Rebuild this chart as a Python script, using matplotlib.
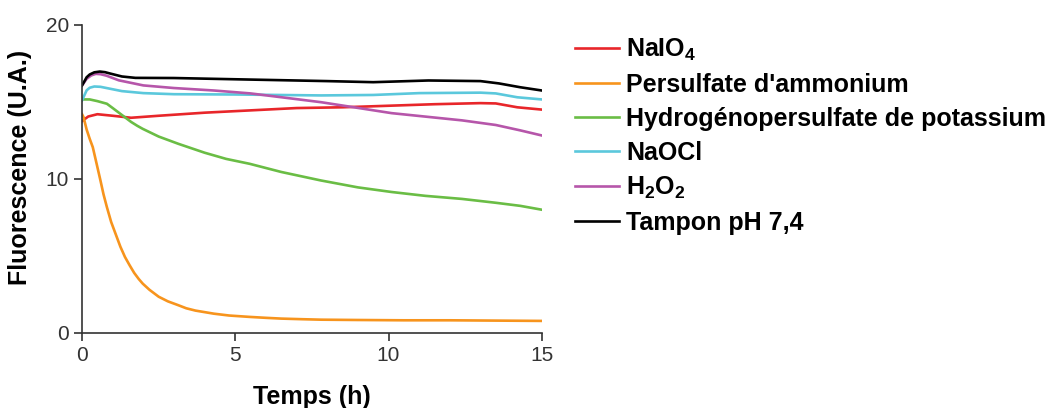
import matplotlib
matplotlib.use("Agg")
import matplotlib.pyplot as plt

plt.rcParams['font.family'] = ['Liberation Sans', 'DejaVu Sans']
plt.rcParams['mathtext.fontset'] = 'custom'
plt.rcParams['mathtext.rm'] = 'Liberation Sans:bold'
plt.rcParams['mathtext.it'] = 'Liberation Sans:bold'
plt.rcParams['mathtext.bf'] = 'Liberation Sans:bold'

# valeurs (temps en h, fluorescence en U.A.)
t_naio4 = [0, 0.2, 0.5, 1.0, 1.6, 2.5, 4, 5.5, 7, 8.5, 10, 11.5, 13, 13.5, 14.2, 15]
f_naio4 = [13.75, 14.05, 14.2, 14.1, 13.97, 14.1, 14.3, 14.45, 14.6, 14.65, 14.75, 14.85, 14.92, 14.9, 14.65, 14.5]

t_aps = [0, 0.05, 0.15, 0.25, 0.35, 0.45, 0.6, 0.7, 0.81, 0.95, 1.1, 1.25, 1.4, 1.55, 1.7, 1.85,
         1.98, 2.2, 2.5, 2.8, 3.14, 3.4, 3.7, 4.0, 4.3, 4.8, 5.47, 6.0, 6.5, 7.2, 7.8, 9, 10.5, 12, 13.5, 15]
f_aps = [14.2, 14.0, 13.2, 12.6, 12.06, 11.2, 9.9, 9.0, 8.17, 7.2, 6.4, 5.6, 4.93, 4.4, 3.9, 3.5,
         3.2, 2.8, 2.35, 2.05, 1.8, 1.6, 1.45, 1.35, 1.25, 1.13, 1.04, 0.98, 0.93, 0.89, 0.86, 0.84, 0.82, 0.82, 0.8, 0.78]

t_oxone = [0, 0.25, 0.5, 0.81, 1.0, 1.2, 1.4, 1.6, 1.8, 1.98, 2.5, 3.14, 4, 4.7, 5.47, 6.5, 7.79, 9, 10.1, 11.2, 12.4, 13.5, 14.3, 15]
f_oxone = [15.16, 15.16, 15.05, 14.88, 14.6, 14.3, 14.0, 13.7, 13.45, 13.25, 12.75, 12.28, 11.7, 11.3, 10.98, 10.45, 9.9, 9.45, 9.15, 8.9, 8.7, 8.45, 8.25, 8.0]

t_naocl = [0, 0.08, 0.15, 0.25, 0.4, 0.6, 0.8, 1.3, 2.0, 3, 5, 7.8, 9.5, 11, 13, 13.5, 14.2, 15]
f_naocl = [15.1, 15.45, 15.75, 15.92, 16.0, 15.98, 15.9, 15.7, 15.57, 15.5, 15.48, 15.42, 15.45, 15.57, 15.6, 15.55, 15.3, 15.16]

t_h2o2 = [0, 0.08, 0.15, 0.3, 0.45, 0.6, 0.8, 1.2, 2.0, 3, 4.3, 5.5, 7.8, 10.1, 12.4, 13.5, 14.3, 15]
f_h2o2 = [16.07, 16.3, 16.5, 16.72, 16.82, 16.8, 16.7, 16.4, 16.07, 15.9, 15.74, 15.55, 14.98, 14.27, 13.8, 13.5, 13.15, 12.82]

t_tampon = [0, 0.08, 0.15, 0.25, 0.4, 0.58, 0.75, 0.9, 1.3, 1.74, 3, 5.47, 8, 9.5, 11.3, 13, 13.6, 14.3, 15]
f_tampon = [16.07, 16.35, 16.6, 16.78, 16.92, 16.97, 16.93, 16.85, 16.65, 16.56, 16.55, 16.45, 16.35, 16.28, 16.39, 16.35, 16.2, 15.95, 15.74]

series = [
    ("NaIO$_4$", t_naio4, f_naio4, "#e8262a"),
    ("Persulfate d'ammonium", t_aps, f_aps, "#f7941d"),
    ("Hydrogénopersulfate de potassium", t_oxone, f_oxone, "#6abd45"),
    ("NaOCl", t_naocl, f_naocl, "#5bc8dc"),
    ("H$_2$O$_2$", t_h2o2, f_h2o2, "#b656aa"),
    ("Tampon pH 7,4", t_tampon, f_tampon, "#000000"),
]

fig = plt.figure(figsize=(10.52, 4.08), dpi=100)
ax = fig.add_axes([0.078, 0.184, 0.437, 0.755])

for label, t, f, c in series:
    ax.plot(t, f, color=c, lw=1.9, label=label)

ax.set_xlim(0, 15)
ax.set_ylim(0, 20)
ax.set_xticks([0, 5, 10, 15])
ax.set_yticks([0, 10, 20])
ax.spines['top'].set_visible(False)
ax.spines['right'].set_visible(False)
for s in ['left', 'bottom']:
    ax.spines[s].set_linewidth(1.2)
    ax.spines[s].set_color('#333333')
ax.tick_params(labelsize=15, width=1.2, length=6, colors='#333333')
ax.set_xlabel('Temps (h)', fontsize=18, fontweight='bold', labelpad=14)
ax.set_ylabel('Fluorescence (U.A.)', fontsize=18, fontweight='bold')
ax.yaxis.set_label_coords(-0.108, 0.537)

leg = ax.legend(loc='upper left', bbox_to_anchor=(1.05, 0.995), frameon=False,
                fontsize=18, handlelength=1.75, handletextpad=0.3, labelspacing=0.4,
                borderaxespad=0)
for txt in leg.get_texts():
    txt.set_fontweight('bold')

plt.savefig('out.png', dpi=100)
